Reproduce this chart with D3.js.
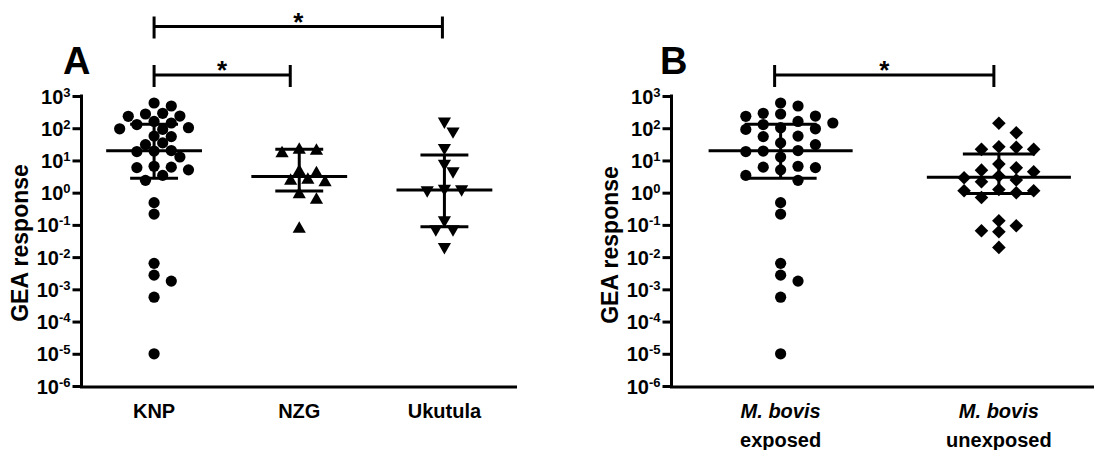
<!DOCTYPE html>
<html><head><meta charset="utf-8">
<script src="https://cdn.jsdelivr.net/npm/d3@7"></script>
<style>
body{margin:0;background:#fff}
svg{display:block}
text{font-family:"Liberation Sans",Arial,Helvetica,sans-serif;font-weight:bold;fill:#000}
</style>
</head><body>
<svg id="c" width="1094" height="450"></svg>
<script>
// ---------- data ----------
const categoriesA = ["KNP", "NZG", "Ukutula"];
const categoriesB = ["exposed", "unexposed"];
const tickExponents = [3, 2, 1, 0, -1, -2, -3, -4, -5, -6];

const knp = [607, 489, 290, 276, 239, 234, 162, 145, 130, 104, 96, 92, 57, 55, 35, 31,
  20.3, 19.6, 18.9, 12.8, 6.6, 6.2, 6.0, 5.1, 3.44, 2.41, 0.49, 0.216,
  0.0064, 0.00276, 0.0018, 0.00057, 0.00001];
const nzg = [23.8, 22.1, 18.6, 5.03, 4.46, 2.78, 2.59, 2.34, 0.99, 0.67, 0.084];
const ukutula = [145, 72, 22.1, 7.2, 4.15, 1.2, 1.15, 1.07, 0.125, 0.066, 0.066, 0.0186];

const exposed = [607, 489, 290, 276, 239, 234, 162, 145, 130, 104, 96, 92, 57, 55, 35, 31,
  20.3, 19.6, 18.9, 12.8, 6.6, 6.2, 6.0, 5.1, 3.44, 2.41, 0.49, 0.216,
  0.0064, 0.00276, 0.0018, 0.00057, 0.00001];
const unexposed = [142, 72, 26.6, 25.5, 22.1, 22.1, 7.7, 5.9, 5.0, 4.46, 3.28, 2.90, 2.46, 2.18,
  1.26, 1.15, 1.15, 0.99, 0.71, 0.134, 0.094, 0.066, 0.061, 0.020];

// median and interquartile range, per category
const medianA = [20, 3.2, 1.2];
const q1A = [2.8, 1.12, 0.087];
const q3A = [133, 22.1, 14.7];
const medianB = [20, 3.0];
const q1B = [2.8, 0.95];
const q3B = [133, 15.8];

// ---------- drawing ----------
const svg = d3.select("#c");
const y = d3.scaleLog().domain([1e-6, 1e3]).range([386, 96]);

const shapes = {
  circle: r => `M${-r},0A${r},${r} 0 1,0 ${r},0A${r},${r} 0 1,0 ${-r},0Z`,
  up: r => `M0,${-r}L${r * 1.1},${r * 0.9}L${-r * 1.1},${r * 0.9}Z`,
  down: r => `M0,${r}L${r * 1.1},${-r * 0.9}L${-r * 1.1},${-r * 0.9}Z`,
  diamond: r => `M0,${-r}L${r},0L0,${r}L${-r},0Z`
};

function swarm(values, cx, step, minDist) {
  const pts = values.map(v => ({v, y: y(v)})).sort((a, b) => a.y - b.y);
  const placed = [];
  for (const p of pts) {
    for (let n = 0; n < 60; n++) {
      const k = n === 0 ? 0 : (n % 2 ? Math.ceil(n / 2) : -Math.ceil(n / 2));
      const xx = cx + k * step;
      if (placed.every(q => Math.hypot(q.x - xx, q.y - p.y) >= minDist)) { p.x = xx; break; }
    }
    placed.push(p);
  }
  return placed;
}

function panel(cfg) {
  const g = svg.append("g");
  const x = d3.scalePoint().domain(cfg.categories).range(cfg.xRange).padding(0.5);
  const bw = x.step();

  // y axis ticks + labels
  const ya = g.append("g").attr("transform", `translate(${cfg.axisX},0)`)
    .call(d3.axisLeft(y).tickValues(tickExponents.map(e => Math.pow(10, e))).tickSize(9).tickFormat(""));
  ya.select(".domain").remove();
  ya.selectAll(".tick line").attr("stroke", "#000").attr("stroke-width", 3);
  ya.selectAll(".tick text").remove();
  ya.selectAll(".tick").each(function (d, i) {
    const t = d3.select(this).append("text").attr("x", -11).attr("y", 7).attr("text-anchor", "end");
    t.append("tspan").attr("font-size", 20).text("10");
    t.append("tspan").attr("font-size", 13).attr("dy", -7).text(String(tickExponents[i]).replace("-", "-"));
  });
  // axis lines
  g.append("line").attr("x1", cfg.axisX).attr("x2", cfg.axisX).attr("y1", y(1e3) - 1.5).attr("y2", y(1e-6) + 1.5)
    .attr("stroke", "#000").attr("stroke-width", 3);
  g.append("line").attr("x1", cfg.axisX - 1.5).attr("x2", cfg.xRange[1]).attr("y1", y(1e-6) + 1).attr("y2", y(1e-6) + 1)
    .attr("stroke", "#000").attr("stroke-width", 3);

  // y title
  g.append("text").attr("transform", `translate(${cfg.titleX},${cfg.titleY}) rotate(-90)`)
    .attr("text-anchor", "middle").attr("font-size", 23).text("GEA response");

  // panel letter
  g.append("text").attr("x", cfg.letterX).attr("y", 74).attr("font-size", 38).text(cfg.letter);

  // points
  cfg.groups.forEach((vals, i) => {
    const cx = x(cfg.categories[i]);
    const pts = swarm(vals, cx, cfg.swarmStep, cfg.minDist);
    g.append("g").selectAll("path").data(pts).join("path")
      .attr("transform", d => `translate(${d.x},${d.y})`)
      .attr("d", shapes[cfg.shapes[i]](cfg.sizes[i]))
      .attr("fill", "#000");
  });

  // median + IQR
  cfg.categories.forEach((c, i) => {
    const cx = x(c);
    const mw = bw * 0.33, qw = bw * 0.165;
    const lg = g.append("g").attr("stroke", "#000").attr("stroke-width", 3);
    lg.append("line").attr("x1", cx - mw).attr("x2", cx + mw).attr("y1", y(cfg.median[i])).attr("y2", y(cfg.median[i]));
    lg.append("line").attr("x1", cx - qw).attr("x2", cx + qw).attr("y1", y(cfg.q1[i])).attr("y2", y(cfg.q1[i]));
    lg.append("line").attr("x1", cx - qw).attr("x2", cx + qw).attr("y1", y(cfg.q3[i])).attr("y2", y(cfg.q3[i]));
    lg.append("line").attr("x1", cx).attr("x2", cx).attr("y1", y(cfg.q1[i])).attr("y2", y(cfg.q3[i]));
  });

  // category labels
  cfg.categories.forEach((c, i) => {
    const cx = x(c);
    const lines = cfg.labels[i];
    lines.forEach((ln, j) => {
      g.append("text").attr("x", cx + cfg.labelDx).attr("y", 418 + j * 29).attr("text-anchor", "middle")
        .attr("font-size", 20).attr("font-style", ln.italic ? "italic" : "normal").text(ln.text);
    });
  });

  // significance bars
  cfg.sig.forEach(s => {
    const x1 = x(s.from) + s.dx1, x2 = x(s.to) + s.dx2, yy = s.y;
    const sg = g.append("g").attr("stroke", "#000").attr("stroke-width", 3);
    sg.append("line").attr("x1", x1).attr("x2", x2).attr("y1", yy).attr("y2", yy);
    sg.append("line").attr("x1", x1).attr("x2", x1).attr("y1", yy - 10).attr("y2", yy + 12);
    sg.append("line").attr("x1", x2).attr("x2", x2).attr("y1", yy - 10).attr("y2", yy + 12);
    g.append("text").attr("x", (x1 + x2) / 2).attr("y", yy + 4).attr("text-anchor", "middle")
      .attr("font-size", 26).attr("font-weight", "normal").text("*");
  });
}

panel({
  categories: categoriesA, xRange: [81.5, 517], axisX: 81.5,
  titleX: 28, titleY: 243, letter: "A", letterX: 63,
  groups: [knp, nzg, ukutula], shapes: ["circle", "up", "down"], sizes: [5.6, 6, 6],
  swarmStep: 8.6, minDist: 10.6,
  median: medianA, q1: q1A, q3: q3A,
  labels: [[{text: "KNP"}], [{text: "NZG"}], [{text: "Ukutula"}]], labelDx: 0,
  sig: [{from: "KNP", to: "Ukutula", y: 26.5, dx1: 0, dx2: -2},
        {from: "KNP", to: "NZG", y: 75, dx1: 0, dx2: -9}]
});

panel({
  categories: categoriesB, xRange: [671.5, 1108], axisX: 671.5,
  titleX: 618, titleY: 245, letter: "B", letterX: 660,
  groups: [exposed, unexposed], shapes: ["circle", "diamond"], sizes: [5.6, 6.8],
  swarmStep: 17.4, minDist: 11,
  median: medianB, q1: q1B, q3: q3B,
  labels: [[{text: "M. bovis", italic: true}, {text: "exposed"}], [{text: "M. bovis", italic: true}, {text: "unexposed"}]],
  labelDx: 0,
  sig: [{from: "exposed", to: "unexposed", y: 75, dx1: -6, dx2: -5}]
});
</script>
</body></html>
